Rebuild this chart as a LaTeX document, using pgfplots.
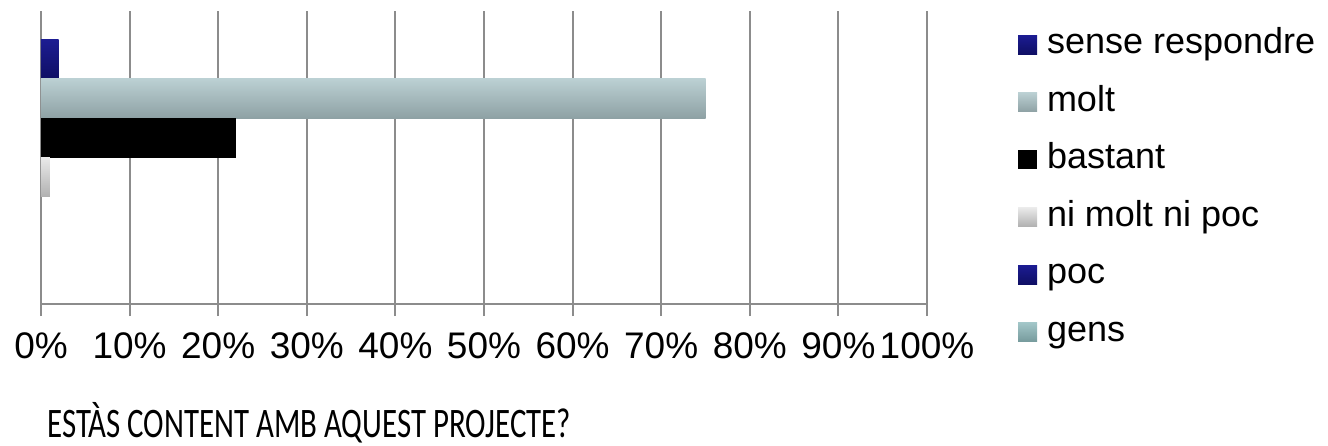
\documentclass[border=0pt]{standalone}
\usepackage{pgfplots}
\pgfplotsset{compat=1.18}
\usepackage{fontspec}
\setmainfont{Liberation Sans}
\newfontfamily\calibri{Carlito}

\definecolor{gridgray}{HTML}{8C8C8C}
\definecolor{navytop}{HTML}{1C1C92}
\definecolor{navybot}{HTML}{0F0F64}
\definecolor{molttop}{HTML}{BBD0D3}
\definecolor{moltbot}{HTML}{8EA1A4}
\definecolor{nitop}{HTML}{EAEAEA}
\definecolor{nibot}{HTML}{B0B0B0}
\definecolor{genstop}{HTML}{A2C6C8}
\definecolor{gensbot}{HTML}{769A9C}

\begin{document}
\begin{tikzpicture}
\useasboundingbox (-20.5pt,-70.5pt) rectangle (643.5pt,152pt);
\begin{axis}[
    scale only axis,
    width=443pt, height=146.5pt,
    xmin=0, xmax=100,
    ymin=-1.225, ymax=6.225,
    xtick={0,10,...,100},
    xticklabel={\pgfmathprintnumber{\tick}\%},
    /pgf/number format/assume math mode=true,
    tick label style={font=\fontsize{18.5}{21}\selectfont},
    xticklabel style={yshift=-5pt},
    xmajorgrids,
    grid style={draw=gridgray, line width=1pt},
    axis x line*=bottom,
    axis line style={draw=gridgray, line width=1pt, -},
    hide y axis,
    major tick length=12pt,
    tick align=center,
    tick style={draw=gridgray, line width=1pt},
    every axis plot/.append style={xbar, bar width=1, bar shift=0pt, draw=none},
    legend cell align=left,
    legend image code/.code={\fill[#1] (0pt,-4.75pt) rectangle (9.5pt,4.75pt);},
    legend style={at={(1.1027,0.943)}, anchor=north west, draw=none, fill=none,
        inner sep=0pt, outer sep=0pt,
        font=\fontsize{18}{21}\selectfont,
        row sep=11.75pt, column sep=5pt,
        nodes={inner sep=0pt, text height=13pt, text depth=4pt}},
    ]
    % one bar per answer, top to bottom
    \addplot[top color=navytop, bottom color=navybot] coordinates {(2,5)};
    \addplot[top color=molttop, bottom color=moltbot] coordinates {(75,4)};
    \addplot[fill=black] coordinates {(22,3)};
    \addplot[top color=nitop, bottom color=nibot] coordinates {(1,2)};
    \addplot[top color=navytop, bottom color=navybot] coordinates {(0,1)};
    \addplot[top color=genstop, bottom color=gensbot] coordinates {(0,0)};
    \legend{sense respondre, molt, bastant, ni molt ni poc, poc, gens}
\end{axis}
\node[anchor=base west, inner sep=0pt] at (3pt,-66.5pt)
    {\scalebox{0.735}[1]{\calibri\fontsize{21}{25}\selectfont ESTÀS CONTENT AMB AQUEST PROJECTE?}};
\end{tikzpicture}
\end{document}
